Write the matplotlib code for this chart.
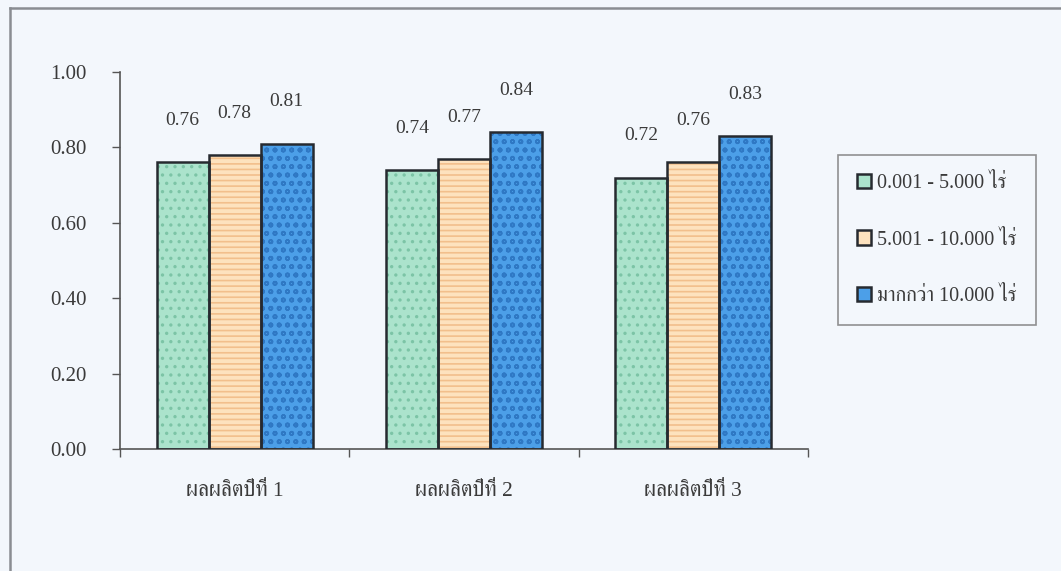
import matplotlib
matplotlib.use("Agg")
import matplotlib.pyplot as plt
from matplotlib import font_manager
from matplotlib.ft2font import FT2Font
from matplotlib.lines import Line2D
import numpy as np

# ---- data -------------------------------------------------------------
categories = ["ผลผลิตปีที่ 1", "ผลผลิตปีที่ 2", "ผลผลิตปีที่ 3"]
series_names = ["0.001 - 5.000 ไร่", "5.001 - 10.000 ไร่", "มากกว่า 10.000 ไร่"]
small_farm = [0.76, 0.74, 0.72]
medium_farm = [0.78, 0.77, 0.76]
large_farm = [0.81, 0.84, 0.83]
y_ticks = [0.00, 0.20, 0.40, 0.60, 0.80, 1.00]

series_values = [small_farm, medium_farm, large_farm]
fill_colors = ["#abe3cc", "#fde2be", "#4c9fe8"]
hatch_colors = ["#7cc4a6", "#f2bf8c", "#2f78c4"]
hatches = ["..", "---", "oo"]


def find_thai_family():
    """Return an installed family that has Thai glyphs, serif faces first."""
    found = []
    for f in font_manager.fontManager.ttflist:
        try:
            if 0x0E1C in FT2Font(f.fname).get_charmap():
                found.append(f.name)
        except Exception:
            pass
    found = list(dict.fromkeys(found))
    found.sort(key=lambda n: (0 if "Serif" in n else 1, n))
    return found[0] if found else None


thai = find_thai_family()
family = ["Liberation Serif"] + ([thai] if thai else []) + ["DejaVu Serif"]
plt.rcParams["font.family"] = family
plt.rcParams["hatch.linewidth"] = 1.2

text_color = "#3a3a3a"
bg = "#f3f7fc"
fig = plt.figure(figsize=(10.61, 5.71), dpi=100, facecolor=bg)
ax = fig.add_axes([120 / 1061, 122 / 571, 688 / 1061, 377 / 571])
ax.set_facecolor(bg)

x = np.arange(len(categories))
width = 0.227
offsets = [-width, 0, width]

for vals, off, fc, hc, hatch in zip(series_values, offsets, fill_colors,
                                    hatch_colors, hatches):
    # patterned fill
    ax.bar(x + off, vals, width, color=fc, edgecolor=hc, hatch=hatch,
           linewidth=0, zorder=2)
    # dark outline
    ax.bar(x + off, vals, width, facecolor="none", edgecolor="#262a30",
           linewidth=1.8, zorder=3)
    for xi, v in zip(x + off, vals):
        ax.annotate(f"{v:.2f}", (xi, v), xytext=(0, 30),
                    textcoords="offset points", ha="center", va="center",
                    fontsize=14, color=text_color)

ax.set_xlim(-0.5, len(categories) - 0.5)
ax.set_ylim(0, 1.0)
ax.set_yticks(y_ticks)
ax.set_yticklabels([f"{t:.2f}" for t in y_ticks], fontsize=15,
                   color=text_color)
ax.tick_params(axis="y", length=6, width=1, color="#555555", pad=18)

ax.set_xticks(x)
ax.set_xticklabels(categories, fontsize=15.5, color=text_color)
ax.tick_params(axis="x", which="major", length=0, pad=24)
ax.set_xticks(np.arange(-0.5, len(categories), 1.0), minor=True)
ax.tick_params(axis="x", which="minor", length=6, width=1, color="#555555")

for side in ("top", "right"):
    ax.spines[side].set_visible(False)
for side in ("left", "bottom"):
    ax.spines[side].set_color("#555555")
    ax.spines[side].set_linewidth(1.2)

# outer chart frame
fig.add_artist(Line2D([10 / 1061, 10 / 1061], [0, 1 - 8 / 571],
                      transform=fig.transFigure, color="#8a8d92", lw=1.8))
fig.add_artist(Line2D([10 / 1061, 1], [1 - 8 / 571, 1 - 8 / 571],
                      transform=fig.transFigure, color="#8a8d92", lw=1.8))

handles = [plt.Rectangle((0, 0), 1, 1, facecolor=fc, edgecolor="#262a30",
                         linewidth=1.8) for fc in fill_colors]
leg = fig.legend(handles, series_names, loc="upper left",
                 bbox_to_anchor=(838 / 1061, 1 - 155 / 571),
                 frameon=True, fancybox=False, fontsize=14.5,
                 labelspacing=1.85, handlelength=0.7, handleheight=0.7,
                 handletextpad=0.3, borderpad=0.95, borderaxespad=0)
leg.get_frame().set_edgecolor("#777777")
leg.get_frame().set_facecolor(bg)
leg.get_frame().set_linewidth(1.2)
for t in leg.get_texts():
    t.set_color(text_color)

fig.savefig("out.png", dpi=100, facecolor=bg)
